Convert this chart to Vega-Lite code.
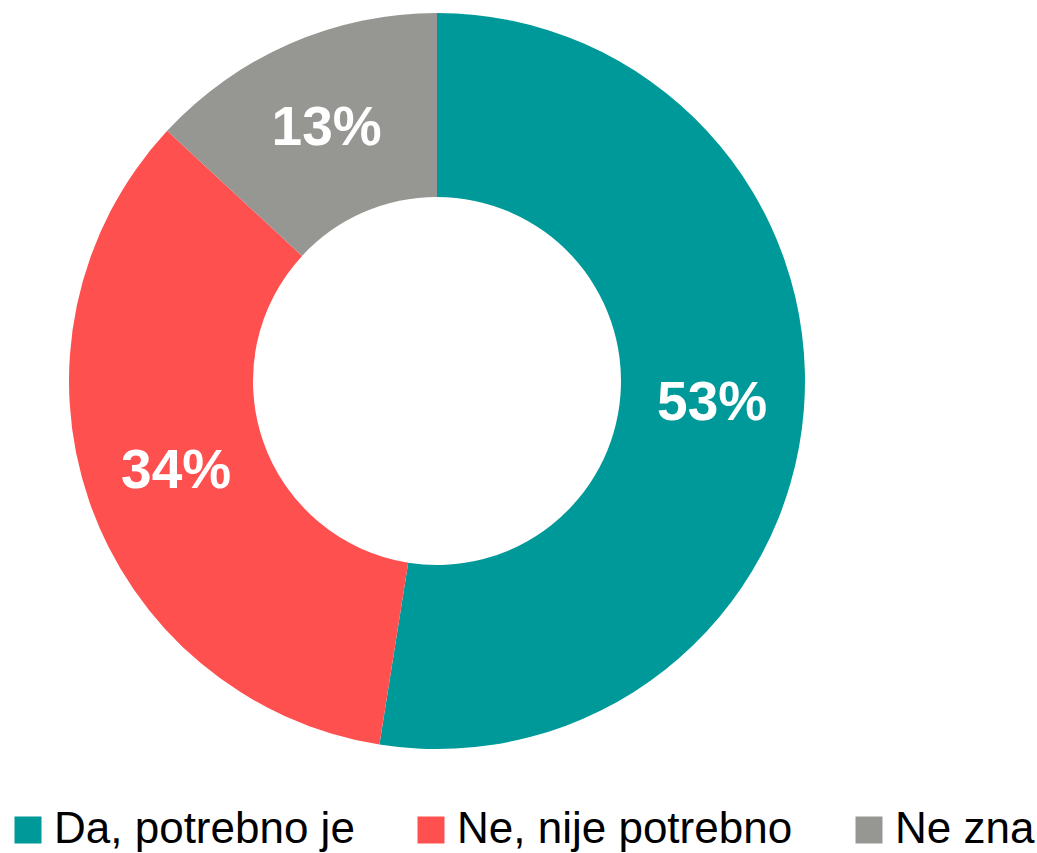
{
  "$schema": "https://vega.github.io/schema/vega-lite/v6.json",
  "width": 874,
  "height": 762,
  "padding": 0,
  "autosize": {"type": "pad"},
  "background": "white",
  "config": {"view": {"stroke": null}},
  "data": {
    "values": [
      {"answer": "Da, potrebno je", "value": 52.5, "rank": 1, "label": "53%"},
      {"answer": "Ne, nije potrebno", "value": 34.4, "rank": 2, "label": "34%"},
      {"answer": "Ne zna", "value": 13.1, "rank": 3, "label": "13%"}
    ]
  },
  "encoding": {
    "theta": {"field": "value", "type": "quantitative", "stack": true},
    "order": {"field": "rank", "type": "quantitative"}
  },
  "layer": [
    {
      "mark": {"type": "arc", "outerRadius": 368, "innerRadius": 184},
      "encoding": {
        "color": {
          "field": "answer",
          "type": "nominal",
          "sort": ["Da, potrebno je", "Ne, nije potrebno", "Ne zna"],
          "scale": {
            "domain": ["Da, potrebno je", "Ne, nije potrebno", "Ne zna"],
            "range": ["#009999", "#FF5050", "#969692"]
          },
          "legend": {
            "title": null,
            "orient": "none",
            "direction": "horizontal",
            "legendX": 6,
            "legendY": 808,
            "symbolType": "square",
            "symbolSize": 729,
            "symbolStrokeWidth": 0,
            "symbolOpacity": 1,
            "labelFont": "Liberation Sans",
            "labelFontSize": 44,
            "labelColor": "#000000",
            "labelOffset": 4,
            "labelLimit": 600,
            "columnPadding": 54
          }
        }
      }
    },
    {
      "mark": {
        "type": "text",
        "radius": 276,
        "font": "Liberation Sans",
        "fontWeight": "bold",
        "fontSize": 55,
        "color": "white",
        "baseline": "middle",
        "align": "center"
      },
      "encoding": {
        "text": {"field": "label", "type": "nominal"}
      }
    }
  ]
}
